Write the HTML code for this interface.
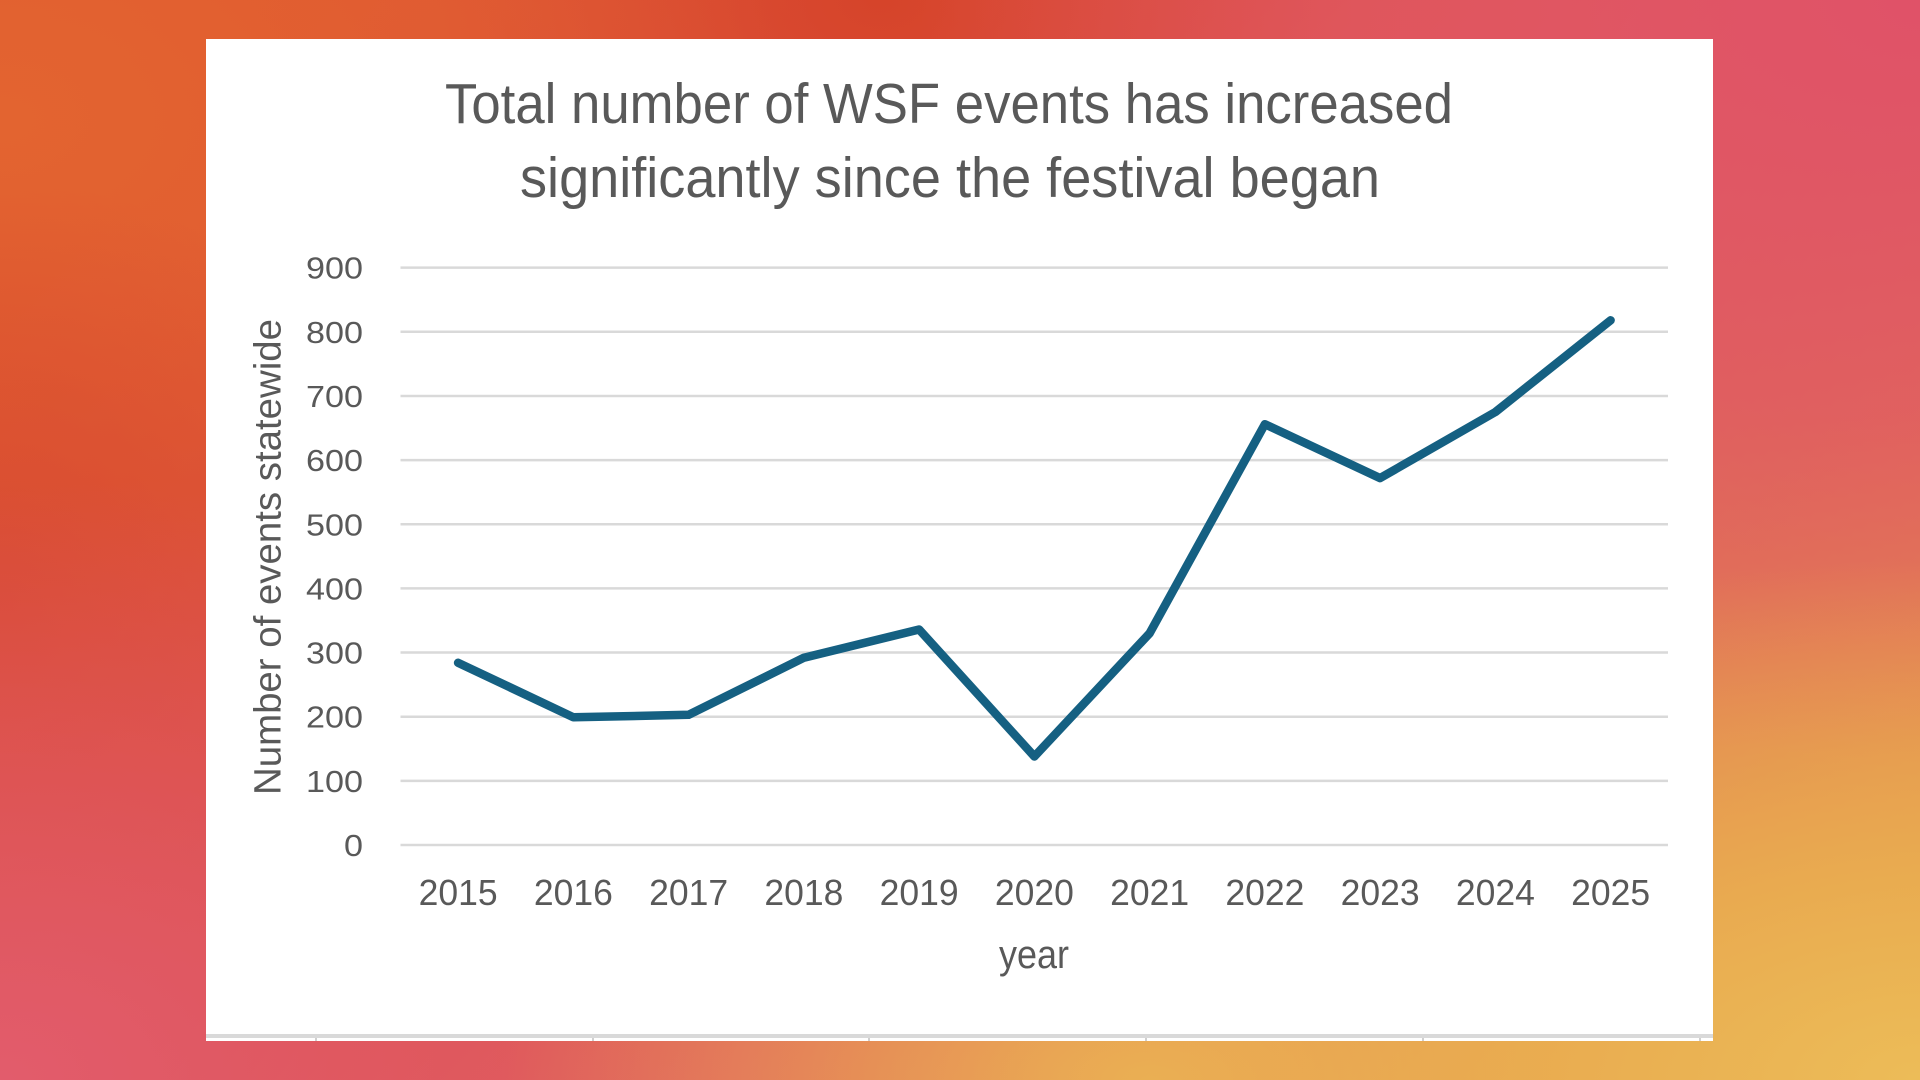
<!DOCTYPE html>
<html>
<head>
<meta charset="utf-8">
<style>
  html, body { margin: 0; padding: 0; }
  body { width: 1920px; height: 1080px; overflow: hidden; }
  .bg {
    position: absolute; left: 0; top: 0; width: 1920px; height: 1080px;
    background:
      radial-gradient(ellipse 950px 520px at 1920px 1080px, rgba(236,188,88,1) 0%, rgba(234,176,80,0.85) 40%, rgba(234,170,80,0) 100%),
      radial-gradient(ellipse 650px 330px at 1150px 1080px, rgba(235,178,84,0.95) 0%, rgba(232,160,72,0) 100%),
      radial-gradient(ellipse 900px 600px at 0px 1080px, rgba(226,92,108,1) 0%, rgba(224,88,104,0.6) 50%, rgba(224,88,104,0) 100%),
      radial-gradient(ellipse 1000px 760px at 1920px 0px, rgba(224,82,104,1) 0%, rgba(224,86,100,0.7) 55%, rgba(224,86,100,0) 100%),
      radial-gradient(ellipse 420px 420px at 0px 600px, rgba(216,74,48,0.9) 0%, rgba(216,74,48,0) 100%),
      radial-gradient(ellipse 800px 520px at 0px 120px, rgba(227,100,48,1) 0%, rgba(226,96,46,0.6) 55%, rgba(226,96,46,0) 100%),
      radial-gradient(ellipse 450px 300px at 880px 0px, rgba(214,68,42,1) 0%, rgba(214,68,42,0) 100%),
      linear-gradient(135deg, #e05a30 0%, #dc5044 40%, #e0625a 60%, #e49a4c 100%);
  }
  svg { position: absolute; left: 0; top: 0; }
  text { font-family: "Liberation Sans", "DejaVu Sans", sans-serif; }
</style>
</head>
<body>
<div class="bg"></div>
<svg width="1920" height="1080" viewBox="0 0 1920 1080" xmlns="http://www.w3.org/2000/svg">
  <!-- white chart panel -->
  <rect x="206" y="39" width="1507" height="1002" fill="#ffffff"/>
  <!-- bottom border of panel -->
  <rect x="206" y="1034" width="1507" height="4" fill="#d9d9d9"/>
  <g fill="#d0d0d0">
    <rect x="315" y="1038" width="2" height="3"/>
    <rect x="592" y="1038" width="2" height="3"/>
    <rect x="868" y="1038" width="2" height="3"/>
    <rect x="1145" y="1038" width="2" height="3"/>
    <rect x="1422" y="1038" width="2" height="3"/>
    <rect x="1699" y="1038" width="2" height="3"/>
  </g>

  <!-- title -->
  <text x="949" y="123" text-anchor="middle" font-size="57" fill="#595959" textLength="1008" lengthAdjust="spacingAndGlyphs">Total number of WSF events has increased</text>
  <text x="950" y="197" text-anchor="middle" font-size="57" fill="#595959" textLength="860" lengthAdjust="spacingAndGlyphs">significantly since the festival began</text>

  <!-- gridlines -->
  <g stroke="#d9d9d9" stroke-width="2.5">
    <line x1="400.5" y1="845" x2="1668" y2="845"/>
    <line x1="400.5" y1="780.85" x2="1668" y2="780.85"/>
    <line x1="400.5" y1="716.7" x2="1668" y2="716.7"/>
    <line x1="400.5" y1="652.55" x2="1668" y2="652.55"/>
    <line x1="400.5" y1="588.4" x2="1668" y2="588.4"/>
    <line x1="400.5" y1="524.25" x2="1668" y2="524.25"/>
    <line x1="400.5" y1="460.1" x2="1668" y2="460.1"/>
    <line x1="400.5" y1="395.95" x2="1668" y2="395.95"/>
    <line x1="400.5" y1="331.8" x2="1668" y2="331.8"/>
    <line x1="400.5" y1="267.65" x2="1668" y2="267.65"/>
  </g>

  <!-- y tick labels -->
  <g font-size="31" fill="#595959" text-anchor="end">
    <text x="363" y="856" textLength="19" lengthAdjust="spacingAndGlyphs">0</text>
    <text x="363" y="791.85" textLength="57" lengthAdjust="spacingAndGlyphs">100</text>
    <text x="363" y="727.7" textLength="57" lengthAdjust="spacingAndGlyphs">200</text>
    <text x="363" y="663.55" textLength="57" lengthAdjust="spacingAndGlyphs">300</text>
    <text x="363" y="599.4" textLength="57" lengthAdjust="spacingAndGlyphs">400</text>
    <text x="363" y="535.25" textLength="57" lengthAdjust="spacingAndGlyphs">500</text>
    <text x="363" y="471.1" textLength="57" lengthAdjust="spacingAndGlyphs">600</text>
    <text x="363" y="406.95" textLength="57" lengthAdjust="spacingAndGlyphs">700</text>
    <text x="363" y="342.8" textLength="57" lengthAdjust="spacingAndGlyphs">800</text>
    <text x="363" y="278.65" textLength="57" lengthAdjust="spacingAndGlyphs">900</text>
  </g>

  <!-- y axis title -->
  <text transform="translate(280.5,557) rotate(-90)" x="0" y="0" text-anchor="middle" font-size="38" fill="#595959" textLength="476" lengthAdjust="spacingAndGlyphs">Number of events statewide</text>

  <!-- x tick labels -->
  <g font-size="36" fill="#595959" text-anchor="middle">
    <text x="458.1" y="905" textLength="79" lengthAdjust="spacingAndGlyphs">2015</text>
    <text x="573.4" y="905" textLength="79" lengthAdjust="spacingAndGlyphs">2016</text>
    <text x="688.6" y="905" textLength="79" lengthAdjust="spacingAndGlyphs">2017</text>
    <text x="803.9" y="905" textLength="79" lengthAdjust="spacingAndGlyphs">2018</text>
    <text x="919.1" y="905" textLength="79" lengthAdjust="spacingAndGlyphs">2019</text>
    <text x="1034.4" y="905" textLength="79" lengthAdjust="spacingAndGlyphs">2020</text>
    <text x="1149.6" y="905" textLength="79" lengthAdjust="spacingAndGlyphs">2021</text>
    <text x="1264.9" y="905" textLength="79" lengthAdjust="spacingAndGlyphs">2022</text>
    <text x="1380.1" y="905" textLength="79" lengthAdjust="spacingAndGlyphs">2023</text>
    <text x="1495.4" y="905" textLength="79" lengthAdjust="spacingAndGlyphs">2024</text>
    <text x="1610.6" y="905" textLength="79" lengthAdjust="spacingAndGlyphs">2025</text>
  </g>

  <!-- x axis title -->
  <text x="1034" y="968" text-anchor="middle" font-size="40" fill="#595959" textLength="70" lengthAdjust="spacingAndGlyphs">year</text>

  <!-- data line -->
  <polyline fill="none" stroke="#156082" stroke-width="8.5" stroke-linecap="round" stroke-linejoin="round"
    points="458.1,662.8 573.4,717.3 688.6,714.8 803.9,657.7 919.1,629.5 1034.4,756.5 1149.6,633.3 1264.9,424.2 1380.1,478.1 1495.4,412.0 1610.6,320.3"/>
</svg>
</body>
</html>
